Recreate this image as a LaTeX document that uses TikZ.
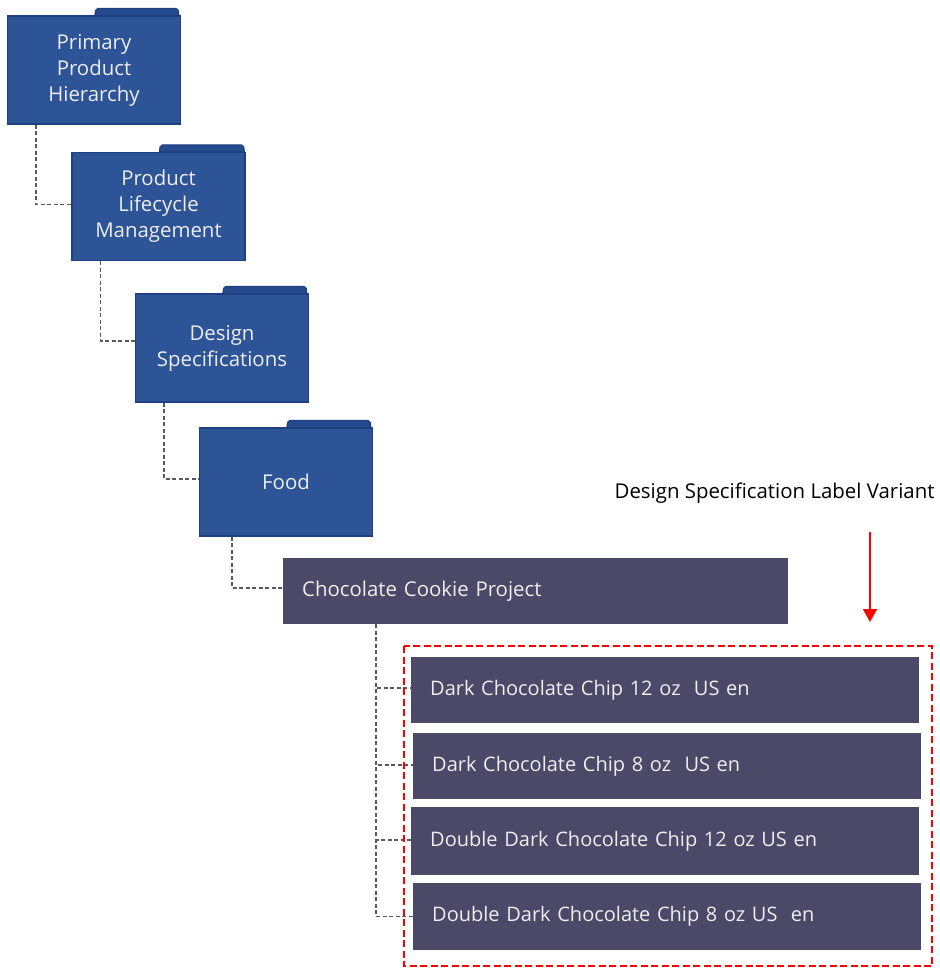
\documentclass[tikz,border=0pt]{standalone}
\usepackage{fontspec}
\setmainfont{Open Sans}
\usetikzlibrary{arrows.meta}
\definecolor{folderblue}{HTML}{2C5496}
\definecolor{folderedge}{HTML}{1E3F80}
\definecolor{tabblue}{HTML}{264A8E}
\definecolor{slatebox}{HTML}{4A4A68}
\definecolor{boxtext}{HTML}{EDEDF2}
\tikzset{
  folder/.style={draw=folderedge, line width=1.2pt, fill=folderblue, text=boxtext, align=center,
    minimum width=173pt, minimum height=108pt, inner sep=0pt, font=\fontsize{20.4}{26}\selectfont},
  foldertab/.style={draw=folderedge, line width=1.2pt, fill=tabblue},
  labelbox/.style={fill=slatebox, text=boxtext, align=left, anchor=west, inner xsep=19pt, inner ysep=0pt,
    text width=470pt, minimum height=66pt, font=\fontsize{20}{26}\selectfont},
  link/.style={line width=1.7pt, dash pattern=on 4pt off 2.5pt, black!65},
}
\begin{document}
\begin{tikzpicture}[x=1pt, y=-1pt]

\useasboundingbox (0,0) rectangle (939,968);

\node[folder] (folder1) at (94,70) {Primary\\Product\\Hierarchy};
\node[folder] (folder2) at (158.5,206.5) {Product\\Lifecycle\\Management};
\node[folder] (folder3) at (222,348) {Design\\Specifications};
\node[folder] (folder4) at (286,482) {Food};

\draw[foldertab] ([xshift=88pt]folder1.north west) [rounded corners=2pt] -- ++(1,-7) -- ++(82,0) [sharp corners] -- ++(1,7) -- cycle;
\draw[foldertab] ([xshift=88pt]folder2.north west) [rounded corners=2pt] -- ++(1,-7) -- ++(83,0) [sharp corners] -- ++(1,7) -- cycle;
\draw[foldertab] ([xshift=88pt]folder3.north west) [rounded corners=2pt] -- ++(1,-7) -- ++(82,0) [sharp corners] -- ++(1,7) -- cycle;
\draw[foldertab] ([xshift=88pt]folder4.north west) [rounded corners=2pt] -- ++(1,-7) -- ++(82,0) [sharp corners] -- ++(1,7) -- cycle;

\node[labelbox, text width=467pt, font=\fontsize{20.4}{26}\selectfont] (project) at (283,591) {Chocolate Cookie Project};

\node[labelbox] (variant1) at (411,690) {Dark Chocolate Chip 12 oz\ \ US en};
\node[labelbox] (variant2) at (413,766) {Dark Chocolate Chip 8 oz\ \ US en};
\node[labelbox, minimum height=68pt] (variant3) at (411,841) {Double Dark Chocolate Chip 12 oz US en};
\node[labelbox, minimum height=67pt] (variant4) at (413,916.5) {Double Dark Chocolate Chip 8 oz US\ \ en};

% dashed connectors
\draw[link] ([xshift=29pt]folder1.south west) |- ([yshift=2pt]folder2.west);
\draw[link] ([xshift=29pt]folder2.south west) |- ([yshift=7pt]folder3.west);
\draw[link] ([xshift=29pt]folder3.south west) |- ([yshift=3pt]folder4.west);
\draw[link] ([xshift=33pt]folder4.south west) |- ([yshift=3pt]project.west);

\coordinate (trunk) at ([xshift=93pt]project.south west);
\draw[link] (trunk) |- ([yshift=2pt]variant1.west);
\draw[link] (trunk) |- ([yshift=1pt]variant2.west);
\draw[link] (trunk) |- ([yshift=1pt]variant3.west);
\draw[link] (trunk) |- (variant4.west);

% red selection
\draw[red, line width=1.4pt, dash pattern=on 7pt off 3.5pt] (404,646) rectangle (932,966);
\node[anchor=east, font=\fontsize{20.4}{24}\selectfont] (caption) at (938,493) {Design Specification Label Variant};
\coordinate (arrowtop) at (870,532);
\coordinate (arrowend) at (870,622);
\draw[red, line width=1.6pt, -{Stealth[length=13pt,width=14pt,inset=0pt]}] (arrowtop) -- (arrowend);

\end{tikzpicture}
\end{document}
